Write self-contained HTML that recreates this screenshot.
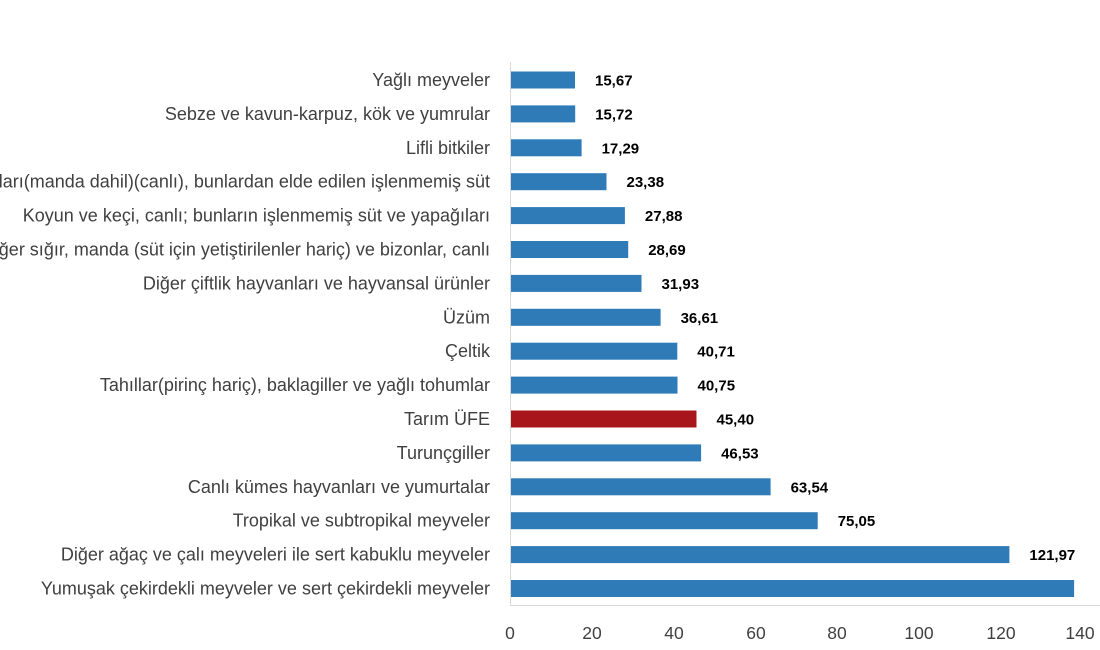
<!DOCTYPE html>
<html><head><meta charset="utf-8"><style>body{margin:0;background:#fff}svg{display:block}</style></head>
<body>
<svg width="1100" height="650" xmlns="http://www.w3.org/2000/svg" font-family="'Liberation Sans', sans-serif">
<line x1="510.5" y1="62" x2="510.5" y2="606" stroke="#d9d9d9" stroke-width="1"/>
<line x1="510" y1="605.5" x2="1100" y2="605.5" stroke="#d9d9d9" stroke-width="1"/>
<g font-size="17.5" fill="#404040" text-anchor="middle">
<text x="510" y="639">0</text><text x="592" y="639">20</text><text x="674" y="639">40</text><text x="756" y="639">60</text><text x="837" y="639">80</text><text x="919" y="639">100</text><text x="1001" y="639">120</text><text x="1080" y="639">140</text>
</g>
<g fill="#2e7bb8">
<rect x="511" y="71.5" width="64" height="17"/>
<rect x="511" y="105.4" width="64.2" height="17"/>
<rect x="511" y="139.3" width="70.6" height="17"/>
<rect x="511" y="173.2" width="95.5" height="17"/>
<rect x="511" y="207.1" width="113.9" height="17"/>
<rect x="511" y="241" width="117.2" height="17"/>
<rect x="511" y="274.9" width="130.5" height="17"/>
<rect x="511" y="308.8" width="149.6" height="17"/>
<rect x="511" y="342.7" width="166.3" height="17"/>
<rect x="511" y="376.6" width="166.5" height="17"/>
<rect x="511" y="410.5" width="185.5" height="17" fill="#a8161c"/>
<rect x="511" y="444.4" width="190.1" height="17"/>
<rect x="511" y="478.3" width="259.6" height="17"/>
<rect x="511" y="512.2" width="306.7" height="17"/>
<rect x="511" y="546.1" width="498.4" height="17"/>
<rect x="511" y="580" width="563.1" height="17"/>
</g>
<g font-size="18" fill="#404040" text-anchor="end">
<text x="490" y="86">Yağlı meyveler</text>
<text x="490" y="119.9">Sebze ve kavun-karpuz, kök ve yumrular</text>
<text x="490" y="153.8">Lifli bitkiler</text>
<text x="490" y="187.7">Sığırları(manda dahil)(canlı), bunlardan elde edilen işlenmemiş süt</text>
<text x="490" y="221.6">Koyun ve keçi, canlı; bunların işlenmemiş süt ve yapağıları</text>
<text x="490" y="255.5">Diğer sığır, manda (süt için yetiştirilenler hariç) ve bizonlar, canlı</text>
<text x="490" y="289.4">Diğer çiftlik hayvanları ve hayvansal ürünler</text>
<text x="490" y="323.3">Üzüm</text>
<text x="490" y="357.2">Çeltik</text>
<text x="490" y="391.1">Tahıllar(pirinç hariç), baklagiller ve yağlı tohumlar</text>
<text x="490" y="425">Tarım ÜFE</text>
<text x="490" y="458.9">Turunçgiller</text>
<text x="490" y="492.8">Canlı kümes hayvanları ve yumurtalar</text>
<text x="490" y="526.7">Tropikal ve subtropikal meyveler</text>
<text x="490" y="560.6">Diğer ağaç ve çalı meyveleri ile sert kabuklu meyveler</text>
<text x="490" y="594.5">Yumuşak çekirdekli meyveler ve sert çekirdekli meyveler</text>
</g>
<g font-size="15" font-weight="bold" fill="#000">
<text x="595" y="85.5">15,67</text>
<text x="595.2" y="119.4">15,72</text>
<text x="601.6" y="153.3">17,29</text>
<text x="626.5" y="187.2">23,38</text>
<text x="644.9" y="221.1">27,88</text>
<text x="648.2" y="255">28,69</text>
<text x="661.5" y="288.9">31,93</text>
<text x="680.6" y="322.8">36,61</text>
<text x="697.3" y="356.7">40,71</text>
<text x="697.5" y="390.6">40,75</text>
<text x="716.5" y="424.5">45,40</text>
<text x="721.1" y="458.4">46,53</text>
<text x="790.6" y="492.3">63,54</text>
<text x="837.7" y="526.2">75,05</text>
<text x="1029.4" y="560.1">121,97</text>
</g>
</svg>
</body></html>
